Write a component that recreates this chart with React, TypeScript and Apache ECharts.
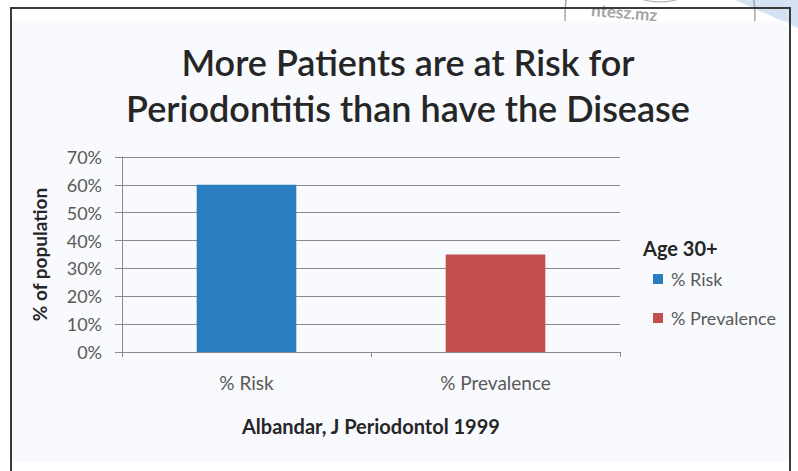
import React, { useEffect, useRef } from "react";
import * as echarts from "echarts";

const categories = ["% Risk", "% Prevalence"];
const riskValues = [60, null];
const prevalenceValues = [null, 35];
const yTicks = { min: 0, max: 70, interval: 10 };

const FONT = "Lato, 'Open Sans', sans-serif";

export default function App() {
  const ref = useRef<HTMLDivElement>(null);

  useEffect(() => {
    document.body.style.margin = "0";
    const chart = echarts.init(ref.current!, null, { renderer: "svg" });
    chart.setOption({
      animation: false,
      backgroundColor: "#ffffff",
      title: {
        text: "More Patients are at Risk for\nPeriodontitis than have the Disease",
        left: 403,
        textAlign: "center",
        top: 34,
        textStyle: {
          fontFamily: FONT,
          fontSize: 36,
          fontWeight: 600,
          color: "#262626",
          lineHeight: 46,
        },
      },
      graphic: [
        // faint stamp in the top-right corner, mostly hidden behind the frame
        {
          type: "polygon",
          z: -30,
          shape: { points: [[735, 0], [798, 0], [798, 28]] },
          style: { fill: "#c6d8f0", opacity: 0.75 },
        },
        {
          type: "circle",
          z: -20,
          shape: { cx: 660, cy: 15, r: 95 },
          style: { stroke: "#a8a8a8", lineWidth: 1.5, fill: "none" },
        },
        {
          type: "circle",
          z: -20,
          shape: { cx: 660, cy: -60, r: 62 },
          style: { stroke: "#a8a8a8", lineWidth: 1, fill: "none" },
        },
        {
          type: "text",
          z: -20,
          x: 592,
          y: 1,
          rotation: -0.08,
          style: { text: "ntesz.mz", fill: "#a4a4a4", font: `bold 17px ${FONT}` },
        },
        {
          type: "rect",
          z: -10,
          shape: { x: 12, y: 21, width: 777, height: 441, r: 4 },
          style: { fill: "#f8fafd" },
        },
        {
          type: "rect",
          z: -5,
          shape: { x: 11, y: 8, width: 779, height: 480 },
          style: { fill: "none", stroke: "#3a3a3a", lineWidth: 2 },
        },
        {
          type: "text",
          left: 643,
          top: 238,
          style: { text: "Age 30+", fill: "#262626", font: `bold 20px ${FONT}` },
        },
        {
          type: "text",
          left: 242,
          top: 416,
          style: { text: "Albandar, J Periodontol 1999", fill: "#262626", font: `bold 20px ${FONT}` },
        },
      ],
      legend: {
        orient: "vertical",
        left: 648,
        top: 265,
        itemGap: 21,
        itemWidth: 10,
        itemHeight: 10,
        icon: "rect",
        textStyle: { fontFamily: FONT, fontSize: 18, color: "#595959", padding: [0, 0, 0, 3] },
        data: ["% Risk", "% Prevalence"],
      },
      grid: { left: 122, right: 178, top: 157, bottom: 119 },
      xAxis: {
        type: "category",
        data: categories,
        axisLine: { lineStyle: { color: "#8a8a8a", width: 1 } },
        axisTick: { show: true, length: 5, lineStyle: { color: "#8a8a8a" } },
        axisLabel: { fontFamily: FONT, fontSize: 19, color: "#595959", margin: 21 },
      },
      yAxis: {
        type: "value",
        min: yTicks.min,
        max: yTicks.max,
        interval: yTicks.interval,
        name: "% of population",
        nameLocation: "middle",
        nameGap: 73,
        nameTextStyle: { fontFamily: FONT, fontSize: 19, fontWeight: "bold", color: "#262626" },
        axisLine: { show: true, lineStyle: { color: "#8a8a8a", width: 1 } },
        axisTick: { show: true, length: 7, lineStyle: { color: "#8a8a8a" } },
        axisLabel: {
          fontFamily: FONT,
          fontSize: 18,
          color: "#595959",
          margin: 20,
          formatter: "{value}%",
        },
        splitLine: { show: true, lineStyle: { color: "#8a8a8a", width: 1 } },
      },
      series: [
        {
          name: "% Risk",
          type: "bar",
          stack: "all",
          data: riskValues,
          barWidth: "40%",
          itemStyle: { color: "#2a7dc0" },
        },
        {
          name: "% Prevalence",
          type: "bar",
          stack: "all",
          data: prevalenceValues,
          barWidth: "40%",
          itemStyle: { color: "#c24f4c" },
        },
      ],
    });
    return () => chart.dispose();
  }, []);

  return <div ref={ref} style={{ width: 798, height: 471 }} />;
}
